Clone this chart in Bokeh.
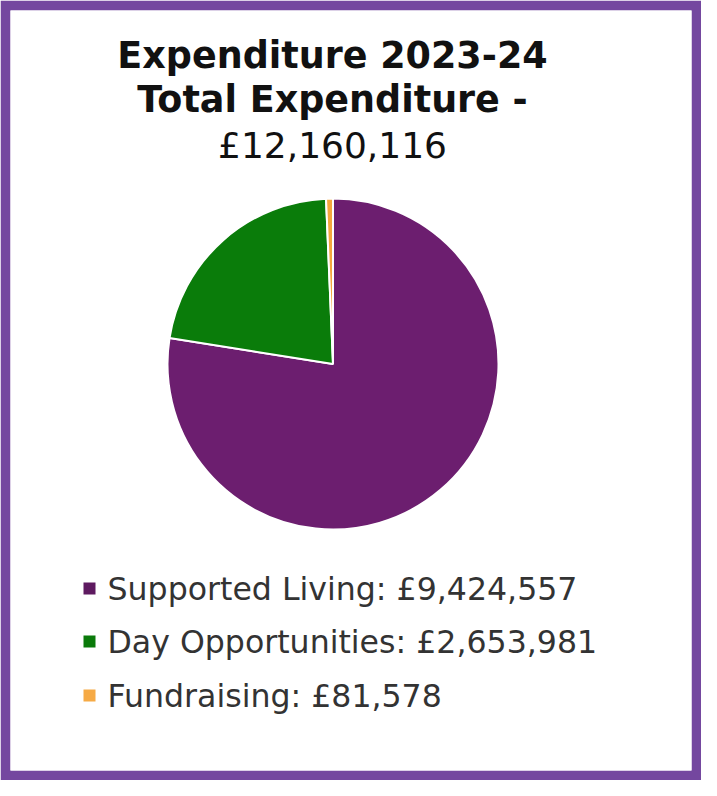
import math
from bokeh.plotting import figure
from bokeh.models import Range1d, ColumnDataSource
from bokeh.core.properties import value
from bokeh.embed import file_html
from bokeh.resources import INLINE

# ---- data ----
categories = ["Supported Living", "Day Opportunities", "Fundraising"]
amounts = [9424557, 2653981, 81578]
colors = ["#6c1e6f", "#0a7c0a", "#f5a73d"]
legend_colors = ["#5e1a60", "#0a7a0a", "#f6aa45"]
title_lines = ["Expenditure 2023-24", "Total Expenditure -"]

total = sum(amounts)

# ---- figure (data units = pixels; x = page x, y = 796 - page y) ----
W, H = 701, 780
BORDER = 10
p = figure(width=W, height=H, output_backend="svg", toolbar_location=None,
           x_range=Range1d(18, 18 + W - 2 * BORDER),
           y_range=Range1d(18, 18 + H - 2 * BORDER),
           min_border_left=BORDER, min_border_right=BORDER,
           min_border_top=BORDER, min_border_bottom=BORDER)
p.axis.visible = False
p.grid.visible = False
p.outline_line_color = None
p.border_fill_color = "#74479f"
p.background_fill_color = "white"

def Y(page_y):
    return 796 - page_y

# ---- pie ----
cx, cy, r = 340.5, Y(371.5), 165.5
starts, ends = [], []
cum = 0.0
for a in amounts:
    frac0 = cum / total
    cum += a
    frac1 = cum / total
    starts.append(math.pi / 2 - 2 * math.pi * frac0)
    ends.append(math.pi / 2 - 2 * math.pi * frac1)
src = ColumnDataSource(dict(start=starts, end=ends, color=colors))
p.wedge(x=cx, y=cy, radius=r, start_angle="start", end_angle="end",
        direction="clock", fill_color="color", line_color="white",
        line_width=2, source=src)

# ---- title ----
font = value("DejaVu Sans")
title_texts = title_lines + [f"£{total:,}"]
title_styles = ["bold", "bold", "normal"]
title_sizes = ["36.5px", "36.5px", "36px"]
title_baselines = [63, 107, 153]
p.text(x=[340] * 3, y=[Y(b) for b in title_baselines], text=title_texts,
       text_font=font, text_font_size=title_sizes, text_font_style=title_styles,
       text_align="center", text_baseline="alphabetic", text_color="#111111")

# ---- legend ----
square_centers = [596, 649, 703]
row_base = [596, 649, 703]
labels = [f"{c}: £{a:,}" for c, a in zip(categories, amounts)]
p.rect(x=[97] * 3, y=[Y(b) for b in square_centers], width=12, height=12,
       fill_color=legend_colors, line_color=None)
p.text(x=[115] * 3, y=[Y(b) for b in row_base], text=labels,
       text_font=font, text_font_size="31.6px", text_align="left",
       text_baseline="alphabetic", text_color="#333333")

open("out.html", "w").write(file_html(p, INLINE))
